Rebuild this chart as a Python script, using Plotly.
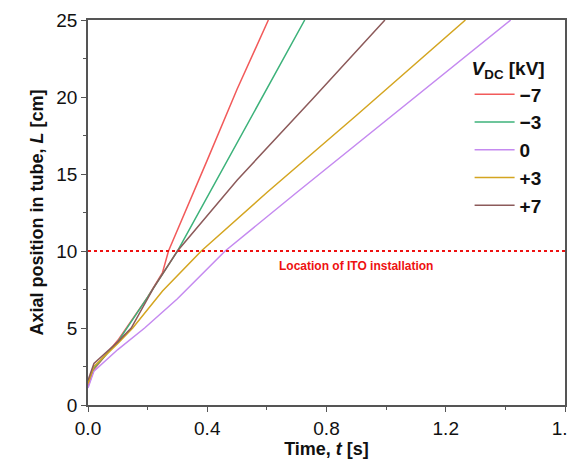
import plotly.graph_objects as go

names = ["\u22127", "\u22123", "0", "+3", "+7"]
colors = ["#f25a5a", "#3cb27a", "#c58af0", "#d4a520", "#8c5a5a"]
t_m7 = [0, 0.02, 0.1, 0.2, 0.25, 0.27, 0.4, 0.5, 0.605]
L_m7 = [1.2, 2.3, 4.2, 7.0, 8.6, 10.0, 15.9, 20.5, 25]
t_m3 = [0, 0.02, 0.1, 0.2, 0.3, 0.4, 0.5, 0.6, 0.727]
L_m3 = [1.5, 2.4, 4.1, 7.0, 10.0, 13.5, 17.0, 20.5, 25]
t_0 = [0, 0.02, 0.1, 0.19, 0.3, 0.46, 0.7, 1.0, 1.418]
L_0 = [1.1, 2.2, 3.6, 5.0, 6.9, 10.0, 13.8, 18.5, 25]
t_p3 = [0, 0.02, 0.1, 0.15, 0.25, 0.38, 0.6, 0.9, 1.266]
L_p3 = [1.4, 2.5, 4.0, 5.0, 7.4, 10.0, 13.8, 18.8, 25]
t_p7 = [0, 0.02, 0.1, 0.145, 0.22, 0.3, 0.5, 0.75, 0.996]
L_p7 = [1.6, 2.7, 4.1, 5.0, 7.6, 10.0, 14.6, 19.8, 25]
ito_level = 10

series = [(t_m7, L_m7), (t_m3, L_m3), (t_0, L_0), (t_p3, L_p3), (t_p7, L_p7)]
fig = go.Figure()
for (t, L), n, c in zip(series, names, colors):
    fig.add_trace(go.Scatter(x=t, y=L, mode="lines", name="<b>" + n + "</b>",
                             line=dict(color=c, width=1.5)))
fig.add_trace(go.Scatter(x=[0, 1.6], y=[ito_level, ito_level], mode="lines",
                         line=dict(color="#ee1111", width=2, dash="dot"),
                         showlegend=False, hoverinfo="skip"))
fig.add_annotation(x=0.9, y=ito_level, yshift=-15, text="<b>Location of ITO installation</b>",
                   showarrow=False, font=dict(color="#ee1111", size=12))

axis = dict(showline=True, linecolor="#555", linewidth=1.5, mirror=True, ticks="outside",
            tickcolor="#555", ticklen=5, showgrid=False, zeroline=False, automargin=False,
            tickfont=dict(size=19, color="#111"))
fig.update_layout(
    width=575, height=463, plot_bgcolor="white", paper_bgcolor="white",
    font=dict(family="Liberation Sans, Arial", color="#111"),
    margin=dict(l=80, r=18, t=12, b=66, autoexpand=False),
    xaxis=dict(axis, range=[0, 1.6], tickvals=[0, 0.4, 0.8, 1.2, 1.6],
               ticktext=["0.0", "0.4", "0.8", "1.2", "1.6"],
               title=dict(text="<b>Time, <i>t</i> [s]</b>", font=dict(size=18), standoff=4),
               minor=dict(ticks="outside", ticklen=3, tickcolor="#555", dtick=0.2)),
    yaxis=dict(axis, range=[0, 25], dtick=5,
               title=dict(text="<b>Axial position in tube, <i>L</i> [cm]</b>", font=dict(size=18), standoff=8),
               minor=dict(ticks="outside", ticklen=3, tickcolor="#555", dtick=2.5)),
    legend=dict(x=0.8, y=0.92, xanchor="left", yanchor="top", bgcolor="rgba(0,0,0,0)",
                font=dict(size=19), tracegroupgap=0, itemwidth=40,
                title=dict(text="<b><i>V</i><sub>DC</sub> [kV]</b>", font=dict(size=19))),
)
fig.write_html("out.html")
